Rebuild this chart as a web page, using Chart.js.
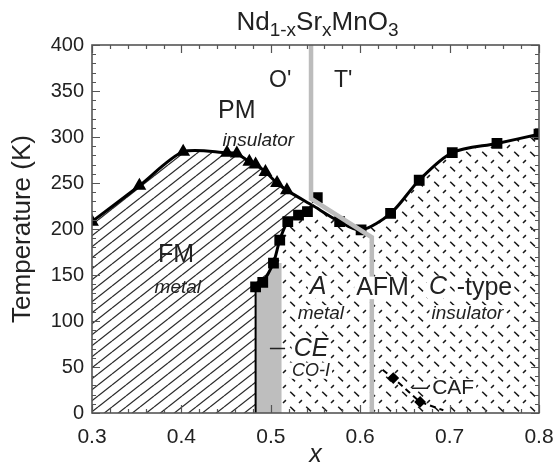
<!DOCTYPE html>
<html>
<head>
<meta charset="utf-8">
<script src="https://cdn.jsdelivr.net/npm/chart.js@4/dist/chart.umd.min.js"></script>
<style>
  html, body { margin: 0; padding: 0; background: #fff; }
  canvas { display: block; }
</style>
</head>
<body>
<canvas id="phaseChart" width="555" height="471"></canvas>
<script>
// FM transition (triangles); last point is where it meets the other curves
const fmX = [0.300, 0.353, 0.402, 0.451, 0.462, 0.476, 0.483, 0.494, 0.507, 0.518, 0.546];
const fmT = [208, 247, 284, 283, 282, 273, 270, 262, 250, 242, 226];

// AFM transition (squares), starts at the junction
const afmX = [0.546, 0.577, 0.601, 0.634, 0.666, 0.703, 0.753, 0.800];
const afmT = [226, 208, 199, 217, 253, 283, 293, 303];

// stray square above the junction
const extraX = [0.552];
const extraT = [234];

// CE / A-type boundary (squares), ends at the junction
const ceX = [0.483, 0.491, 0.503, 0.510, 0.519, 0.531, 0.541, 0.546];
const ceT = [137, 142, 163, 188, 208, 215, 219, 226];

// black vertical edge of the CE region
const edgeX = [0.483, 0.483];
const edgeT = [0, 137];

// grey CO-I strip
const greyX = [0.483, 0.483, 0.491, 0.503, 0.512, 0.512];
const greyT = [0, 137, 142, 163, 163, 0];

// O' / T' structural boundary
const structX = [0.545, 0.545, 0.613, 0.613];
const structT = [400, 233, 191, 0];

// CAF dashed line with diamonds
const cafX = [0.625, 0.637, 0.667, 0.693];
const cafT = [47, 38, 12, 3];

const xTicks = [0.3, 0.4, 0.5, 0.6, 0.7, 0.8];
const yTicks = [0, 50, 100, 150, 200, 250, 300, 350, 400];

const FONT = "'Liberation Sans', Arial, Helvetica, sans-serif";

function pts(xs, ys) {
    return xs.map((x, i) => ({ x: x, y: ys[i] }));
}

// diagonal line hatching for the FM region
function hatchPattern(ctx) {
    const c = document.createElement('canvas');
    c.width = 14; c.height = 11;
    const g = c.getContext('2d');
    g.strokeStyle = '#2a2a2a';
    g.lineWidth = 1.25;
    for (let k = -1; k <= 1; k++) {
        g.beginPath();
        g.moveTo(0, 11 + 11 * k);
        g.lineTo(14, 0 + 11 * k);
        g.stroke();
    }
    return ctx.createPattern(c, 'repeat');
}

// short dashes for the AFM region
function dashPattern(ctx) {
    const c = document.createElement('canvas');
    c.width = 16; c.height = 15;
    const g = c.getContext('2d');
    g.strokeStyle = '#1a1a1a';
    g.lineWidth = 1.5;
    g.beginPath();
    g.moveTo(2.2, 1.8); g.lineTo(7.0, 6.4);
    g.moveTo(11.0, 13.0); g.lineTo(13.9, 10.1);
    g.stroke();
    return ctx.createPattern(c, 'repeat');
}

// phase region fills, drawn below the curves
const regionFill = {
    id: 'regionFill',
    beforeDatasetsDraw(chart) {
        const { ctx, chartArea: a, scales: { x, y } } = chart;
        const poly = (xs, ys, style) => {
            ctx.beginPath();
            xs.forEach((v, i) => {
                const px = x.getPixelForValue(v), py = y.getPixelForValue(ys[i]);
                if (i === 0) ctx.moveTo(px, py); else ctx.lineTo(px, py);
            });
            ctx.closePath();
            ctx.fillStyle = style;
            ctx.fill();
        };
        ctx.save();
        ctx.beginPath();
        ctx.rect(a.left, a.top, a.right - a.left, a.bottom - a.top);
        ctx.clip();

        // AFM region: right of CE curve, under AFM curve
        const afmPolyX = [0.483].concat(ceX, afmX.slice(1), [0.8]);
        const afmPolyT = [0].concat(ceT, afmT.slice(1), [0]);
        poly(afmPolyX, afmPolyT, dashPattern(ctx));

        // FM region: under FM curve, left of CE curve
        const fmPolyX = [0.3].concat(fmX, ceX.slice(0, -1).reverse(), [0.483]);
        const fmPolyT = [0].concat(fmT, ceT.slice(0, -1).reverse(), [0]);
        poly(fmPolyX, fmPolyT, hatchPattern(ctx));

        poly(greyX, greyT, '#bebebe');
        ctx.restore();
    }
};

// text labels inside the plot (data coordinates)
const annotations = [
    { t: "O'", x: 0.5105, y: 361, size: 23 },
    { t: "T'", x: 0.581, y: 361, size: 23 },
    { t: 'PM', x: 0.462, y: 328, size: 25 },
    { t: 'insulator', x: 0.486, y: 296, size: 19, italic: true },
    { t: 'FM', x: 0.394, y: 172, size: 25 },
    { t: 'metal', x: 0.396, y: 136, size: 19, italic: true },
    { t: 'A', x: 0.553, y: 137, size: 25, italic: true, box: true },
    { t: 'metal', x: 0.556, y: 108, size: 19, italic: true, box: true },
    { t: 'AFM', x: 0.625, y: 136, size: 25, box: true },
    { t: 'C', x: 0.687, y: 137, size: 25, italic: true, box: true },
    { t: '-type', x: 0.739, y: 136, size: 25, box: true },
    { t: 'insulator', x: 0.72, y: 108, size: 19, italic: true, box: true },
    { t: 'CE', x: 0.545, y: 70, size: 25, italic: true, box: true },
    { t: 'CO-I', x: 0.545, y: 46, size: 18, italic: true, box: true },
    { t: 'CAF', x: 0.704, y: 27, size: 21, box: true }
];

const plotText = {
    id: 'plotText',
    afterDatasetsDraw(chart) {
        const { ctx, chartArea: a, scales: { x, y } } = chart;
        ctx.save();
        ctx.textAlign = 'center';
        ctx.textBaseline = 'middle';
        annotations.forEach(l => {
            ctx.font = (l.italic ? 'italic ' : '') + l.size + 'px ' + FONT;
            const px = x.getPixelForValue(l.x), py = y.getPixelForValue(l.y);
            if (l.box) {
                const w = ctx.measureText(l.t).width;
                ctx.fillStyle = '#fff';
                ctx.fillRect(px - w / 2 - 2, py - l.size * 0.45, w + 4, l.size * 0.9);
            }
            ctx.fillStyle = '#222';
            ctx.fillText(l.t, px, py);
        });

        // leader marks in front of CE and CAF
        ctx.strokeStyle = '#222';
        ctx.lineWidth = 1.5;
        ctx.beginPath();
        ctx.moveTo(x.getPixelForValue(0.499), y.getPixelForValue(70));
        ctx.lineTo(x.getPixelForValue(0.516), y.getPixelForValue(70));
        ctx.moveTo(x.getPixelForValue(0.658), y.getPixelForValue(27));
        ctx.lineTo(x.getPixelForValue(0.676), y.getPixelForValue(27));
        ctx.stroke();

        // title with subscripts
        const parts = [['Nd', 0], ['1-x', 1], ['Sr', 0], ['x', 1], ['MnO', 0], ['3', 1]];
        const big = '26px ' + FONT, small = '19px ' + FONT;
        let total = 0;
        parts.forEach(p => { ctx.font = p[1] ? small : big; total += ctx.measureText(p[0]).width; });
        let cx = (a.left + a.right) / 2 - total / 2 + 2;
        ctx.textAlign = 'left';
        ctx.textBaseline = 'alphabetic';
        parts.forEach(p => {
            ctx.font = p[1] ? small : big;
            ctx.fillText(p[0], cx, p[1] ? 36 : 30);
            cx += ctx.measureText(p[0]).width;
        });
        ctx.restore();
    }
};

// plot frame with inward major and minor ticks on all four sides
const frameTicks = {
    id: 'frameTicks',
    afterDraw(chart) {
        const { ctx, chartArea: a, scales: { x, y } } = chart;
        ctx.save();
        ctx.strokeStyle = '#555';
        ctx.lineWidth = 1.2;
        ctx.beginPath();
        for (let i = 0; i <= 25; i++) {
            const v = 0.3 + i * 0.02;
            const px = Math.round(x.getPixelForValue(v)) + 0.5;
            const len = i % 5 === 0 ? 8 : 4;
            ctx.moveTo(px, a.bottom); ctx.lineTo(px, a.bottom - len);
            ctx.moveTo(px, a.top); ctx.lineTo(px, a.top + len);
        }
        for (let v = 0; v <= 400; v += 10) {
            const py = Math.round(y.getPixelForValue(v)) + 0.5;
            const len = v % 50 === 0 ? 8 : 4;
            ctx.moveTo(a.left, py); ctx.lineTo(a.left + len, py);
            ctx.moveTo(a.right, py); ctx.lineTo(a.right - len, py);
        }
        ctx.stroke();
        ctx.lineWidth = 1.6;
        ctx.strokeRect(a.left, a.top, a.right - a.left, a.bottom - a.top);
        ctx.restore();
    }
};

function lineSet(xs, ys, opts) {
    return Object.assign({
        data: pts(xs, ys),
        borderColor: '#000',
        backgroundColor: '#000',
        borderWidth: 3,
        pointRadius: 0,
        tension: 0,
        fill: false
    }, opts);
}

function initChart() {
    const ctx = document.getElementById('phaseChart').getContext('2d');
    const lastZero = (n, r) => Array.from({ length: n }, (_, i) => (i === n - 1 ? 0 : r));
    const firstZero = (n, r) => Array.from({ length: n }, (_, i) => (i === 0 ? 0 : r));

    new Chart(ctx, {
        type: 'line',
        data: {
            datasets: [
                lineSet(structX, structT, { borderColor: '#bcbcbc', borderWidth: 4.5 }),
                lineSet(edgeX, edgeT, { borderWidth: 2 }),
                lineSet(cafX, cafT, {
                    borderWidth: 2, borderDash: [6, 4],
                    pointStyle: 'rectRot', pointRadius: [0, 4.5, 4.5, 0]
                }),
                lineSet(ceX, ceT, { tension: 0.2, pointStyle: 'rect', pointRadius: lastZero(ceX.length, 5.5) }),
                lineSet(fmX, fmT, { tension: 0.25, pointStyle: 'triangle', pointRadius: lastZero(fmX.length, 5) }),
                lineSet(afmX, afmT, { tension: 0.3, pointStyle: 'rect', pointRadius: firstZero(afmX.length, 5.5) }),
                lineSet(extraX, extraT, { showLine: false, pointStyle: 'rect', pointRadius: 5.5 })
            ]
        },
        options: {
            responsive: false,
            animation: false,
            devicePixelRatio: 1,
            layout: { padding: { top: 45, right: 16, left: 0, bottom: 0 } },
            scales: {
                x: {
                    type: 'linear',
                    min: 0.3,
                    max: 0.8,
                    afterFit: s => { s.height = 58; s.paddingRight = 16; s.paddingLeft = 0; },
                    afterBuildTicks: s => { s.ticks = xTicks.map(v => ({ value: v })); },
                    ticks: {
                        callback: v => v.toFixed(1),
                        color: '#222',
                        padding: 12,
                        font: { family: FONT, size: 21 }
                    },
                    grid: { display: false, drawTicks: false },
                    border: { display: false },
                    title: {
                        display: true,
                        text: 'x',
                        color: '#222',
                        font: { family: FONT, size: 25, style: 'italic', lineHeight: 1 },
                        padding: { top: 0, bottom: 3 }
                    }
                },
                y: {
                    min: 0,
                    max: 400,
                    afterFit: s => { s.width = 92; },
                    afterBuildTicks: s => { s.ticks = yTicks.map(v => ({ value: v })); },
                    ticks: {
                        color: '#222',
                        padding: 8,
                        font: { family: FONT, size: 20 }
                    },
                    grid: { display: false, drawTicks: false },
                    border: { display: false },
                    title: {
                        display: true,
                        text: 'Temperature (K)',
                        color: '#222',
                        font: { family: FONT, size: 26, lineHeight: 1 },
                        padding: { top: 10, bottom: 0 }
                    }
                }
            },
            plugins: {
                legend: { display: false },
                tooltip: { enabled: false }
            }
        },
        plugins: [regionFill, plotText, frameTicks]
    });
}

initChart();
</script>
</body>
</html>
